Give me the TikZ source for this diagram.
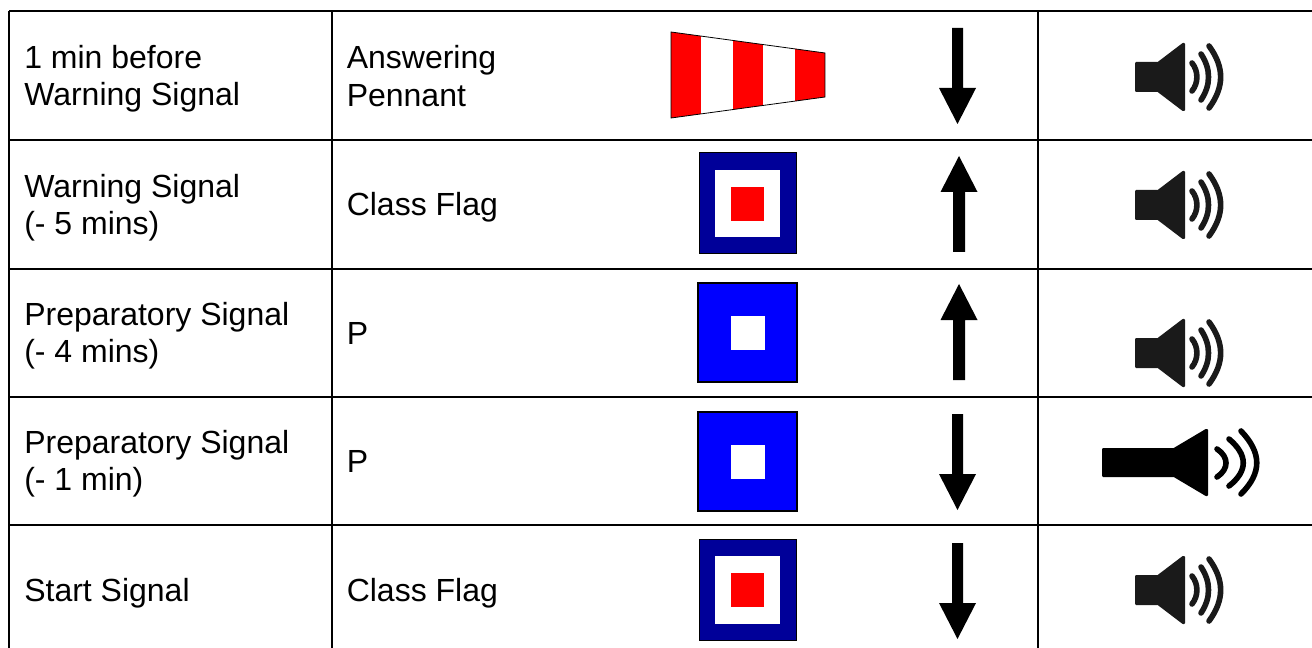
\documentclass[tikz,border=0pt]{standalone}
\usepackage{fontspec}
\setmainfont{Liberation Sans}
\definecolor{navyflag}{RGB}{0,0,153}
\definecolor{spk}{RGB}{26,26,26}
\tikzset{
  cell/.style={anchor=west,align=left,inner sep=0pt,text=black,font=\fontsize{24}{28}\selectfont},
  gridline/.style={black,line width=1.2pt},
  arrowshape/.style={fill=black,draw=none},
  wave/.style={line width=4.2pt,line cap=round,draw=#1,fill=none},
  cone/.style={fill=#1,draw=#1,line width=1.5pt,line join=round},
  classflag/.pic={
    \fill[navyflag] (0,0) rectangle (97,101);
    \draw[black,line width=0.75pt] (0,0) rectangle (97,101);
    \fill[white] (16,17) rectangle (80.5,84.5);
    \fill[red] (32,34) rectangle (64.5,68);
  },
  pflag/.pic={
    \fill[blue] (0,0) rectangle (101,101);
    \draw[black,line width=1.5pt] (1,1) rectangle (100,100);
    \fill[white] (33.5,34) rectangle (67.5,67.5);
  },
  downarrow/.pic={
    \fill[arrowshape] (-5.5,0) -- (5.5,0) -- (5.5,60) -- (18.5,60) -- (0,96) -- (-18.5,60) -- (-5.5,60) -- cycle;
  },
  uparrow/.pic={
    \fill[arrowshape] (-6,96) -- (6,96) -- (6,36) -- (18.5,36) -- (0,0) -- (-18.5,36) -- (-6,36) -- cycle;
  },
  speaker/.pic={
    \draw[cone=spk] (1,-14) -- (23,-14) -- (48,-33) -- (49,-33) -- (49,33) -- (48,33) -- (23,14) -- (1,14) -- cycle;
    \draw[wave=spk] (57,-14) .. controls (63.5,-6) and (63.5,6) .. (57,14);
    \draw[wave=spk] (66,-23) .. controls (76,-8) and (76,8) .. (66,23);
    \draw[wave=spk] (74,-31) .. controls (89.5,-10) and (89.5,10) .. (74,31);
  },
  longspeaker/.pic={
    \draw[cone=black] (1,-14) -- (72,-14) -- (104,-33) -- (105,-33) -- (105,32) -- (104,32) -- (72,13) -- (1,13) -- cycle;
    \draw[wave=black] (115,-14) .. controls (127,-6) and (127,6) .. (115,14);
    \draw[wave=black] (127,-24) .. controls (146,-8) and (146,8) .. (127,23);
    \draw[wave=black] (139,-32) .. controls (160,-10) and (160,10) .. (139,31);
  }
}
\begin{document}
\begin{tikzpicture}[x=0.75pt,y=-0.75pt]
\useasboundingbox (0,0) rectangle (1312,648);
\fill[white] (0,0) rectangle (1312,648);
% grid
\draw[black,line width=1.5pt] (9,11) -- (1312,11);
\foreach \yy in {140,269,397,525} \draw[gridline] (9,\yy) -- (1312,\yy);
\foreach \xx in {9,332,1038} \draw[gridline] (\xx,11) -- (\xx,648);
% first column
\node[cell] (a1) at (24,79) {1 min before\\Warning Signal};
\node[cell] (a2) at (24,208) {Warning Signal\\(- 5 mins)};
\node[cell] (a3) at (24,336) {Preparatory Signal\\(- 4 mins)};
\node[cell] (a4) at (24,464) {Preparatory Signal\\(- 1 min)};
\node[cell] (a5) at (24,593) {Start Signal};
% second column
\node[cell] (b1) at (346.5,76) {Answering\\Pennant};
\node[cell] (b2) at (346.5,207) {Class Flag};
\node[cell] (b3) at (346.5,333) {P};
\node[cell] (b4) at (346.5,461) {P};
\node[cell] (b5) at (346.5,593) {Class Flag};
% pennant
\fill[white] (671,32) -- (825,53) -- (825,97) -- (671,118) -- cycle;
\begin{scope}
  \clip (671,32) -- (825,53) -- (825,97) -- (671,118) -- cycle;
  \fill[red] (671,20) rectangle (701,130);
  \fill[red] (733,20) rectangle (763,130);
  \fill[red] (795,20) rectangle (825,130);
\end{scope}
\draw[black,line width=0.6pt] (671,118) -- (671,32) -- (825,53) -- (825,97) -- cycle;
% flags
\pic at (699,153) {classflag};
\pic at (697,282) {pflag};
\pic at (697,411) {pflag};
\pic at (699,539) {classflag};
% arrows
\pic at (957.5,28) {downarrow};
\pic at (959,156) {uparrow};
\pic at (959,284) {uparrow};
\pic at (957.5,414) {downarrow};
\pic at (957.5,543) {downarrow};
% speakers
\pic at (1135,77) {speaker};
\pic at (1135,205) {speaker};
\pic at (1135,353) {speaker};
\pic at (1102,463) {longspeaker};
\pic at (1135,590) {speaker};
\end{tikzpicture}
\end{document}
